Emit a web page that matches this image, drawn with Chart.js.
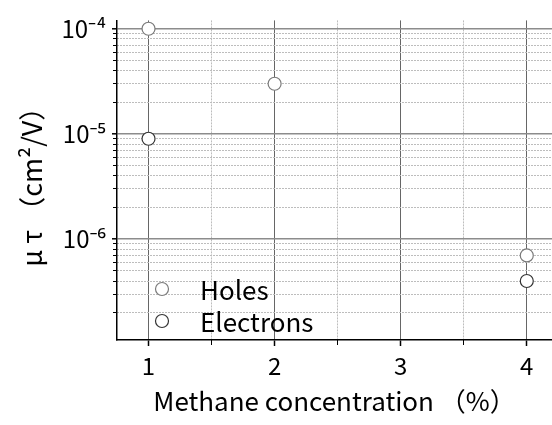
<!DOCTYPE html>
<html>
<head>
<meta charset="utf-8">
<script src="https://cdn.jsdelivr.net/npm/chart.js@4/dist/chart.umd.min.js"></script>
<style>
  html, body { margin: 0; padding: 0; background: #fff; }
  #wrap { width: 552px; height: 425px; }
</style>
</head>
<body>
<div id="wrap"><canvas id="myChart"></canvas></div>
<script>
const seriesNames = ['Holes', 'Electrons'];
const holesX = [1, 2, 4];
const holesY = [1e-4, 3e-5, 7e-7];
const electronsX = [1, 4];
const electronsY = [9e-6, 4e-7];

const xTicks = [1, 2, 3, 4];
const xMinorTicks = [1.5, 2.5, 3.5];
const yTicks = [1e-6, 1e-5, 1e-4];
const yTickLabels = ['10⁻⁶', '10⁻⁵', '10⁻⁴'];
const yDecades = [1e-7, 1e-6, 1e-5];
const yMinorSteps = [2, 3, 4, 5, 6, 7, 8, 9];

const xMin = 0.75, xMax = 4.2;
const yMin = 1.1e-7, yMax = 1.2e-4;
const family = '"Noto Sans CJK JP", "Noto Sans", sans-serif';

const yMinorTicks = [];
yDecades.forEach(d => {
  yMinorSteps.forEach(s => {
    const v = d * s;
    if (v >= yMin && v <= yMax) yMinorTicks.push(v);
  });
});

function toPoints(xs, ys) {
  return xs.map((x, i) => ({ x: x, y: ys[i] }));
}

// legend drawn inside the plot, bottom left
const insideLegend = {
  id: 'insideLegend',
  afterDatasetsDraw(chart) {
    const ctx = chart.ctx;
    const area = chart.chartArea;
    ctx.save();
    ctx.font = '26px ' + family;
    ctx.textBaseline = 'middle';
    ctx.textAlign = 'left';
    chart.data.datasets.forEach((ds, i) => {
      const y = area.bottom - 51 + i * 32;
      ctx.beginPath();
      ctx.arc(area.left + 45, y, ds.pointRadius, 0, Math.PI * 2);
      ctx.fillStyle = ds.pointBackgroundColor;
      ctx.fill();
      ctx.lineWidth = ds.pointBorderWidth;
      ctx.strokeStyle = ds.pointBorderColor;
      ctx.stroke();
      ctx.fillStyle = '#000';
      ctx.fillText(ds.label, area.left + 83, y + 1);
    });
    ctx.restore();
  }
};

new Chart(document.getElementById('myChart'), {
  type: 'scatter',
  data: {
    datasets: [{
      label: seriesNames[0],
      data: toPoints(holesX, holesY),
      xAxisID: 'x',
      yAxisID: 'y',
      pointRadius: 6.5,
      pointBackgroundColor: '#fff',
      pointBorderColor: '#7a7a7a',
      pointBorderWidth: 1.2
    }, {
      label: seriesNames[1],
      data: toPoints(electronsX, electronsY),
      xAxisID: 'x',
      yAxisID: 'y',
      pointRadius: 6.5,
      pointBackgroundColor: '#fff',
      pointBorderColor: '#333',
      pointBorderWidth: 1.2
    }]
  },
  options: {
    responsive: true,
    maintainAspectRatio: false,
    animation: false,
    layout: { autoPadding: false, padding: { top: 18, left: 0, right: 0, bottom: 0 } },
    plugins: { legend: { display: false }, tooltip: { enabled: false } },
    scales: {
      x: {
        type: 'linear', position: 'bottom', min: xMin, max: xMax, weight: 1,
        afterBuildTicks: s => { s.ticks = xTicks.map(v => ({ value: v })); },
        afterFit: s => { s.height = 85; s.paddingLeft = 0; s.paddingRight = 0; },
        ticks: { color: '#000', font: { family: family, size: 24 }, padding: 5,
                 maxRotation: 0, autoSkip: false, callback: v => String(v) },
        grid: { color: '#666', lineWidth: 1, tickLength: 6, tickColor: '#000', tickWidth: 1.5 },
        border: { color: '#000', width: 1.5 },
        title: { display: true, text: 'Methane concentration （%）', color: '#000',
                 font: { family: family, size: 26 }, padding: { top: 0, bottom: 8 } }
      },
      xMinor: {
        type: 'linear', position: 'bottom', min: xMin, max: xMax, weight: 0,
        afterBuildTicks: s => { s.ticks = xMinorTicks.map(v => ({ value: v })); },
        afterFit: s => { s.height = 0; s.paddingLeft = 0; s.paddingRight = 0; },
        ticks: { display: false },
        grid: { color: '#bdbdbd', lineWidth: 1, tickLength: 5, tickColor: '#000', tickWidth: 1 },
        border: { display: false, dash: [2, 1] }
      },
      y: {
        type: 'logarithmic', position: 'left', min: yMin, max: yMax, weight: 1,
        afterBuildTicks: s => { s.ticks = yTicks.map(v => ({ value: v })); },
        afterFit: s => { s.width = 117; },
        ticks: { color: '#000', font: { family: family, size: 24 }, padding: 6,
                 autoSkip: false, callback: v => yTickLabels[yTicks.indexOf(v)] },
        grid: { color: '#8c8c8c', lineWidth: 1.6, tickLength: 5, tickColor: '#000', tickWidth: 1.5 },
        border: { color: '#000', width: 1.5 },
        title: { display: true, text: 'μ τ （cm²/V）', color: '#000',
                 font: { family: family, size: 27 }, padding: { top: 16, bottom: 0 } }
      },
      yMinor: {
        type: 'logarithmic', position: 'left', min: yMin, max: yMax, weight: 0,
        afterBuildTicks: s => { s.ticks = yMinorTicks.map(v => ({ value: v })); },
        afterFit: s => { s.width = 0; },
        ticks: { display: false },
        grid: { color: '#bdbdbd', lineWidth: 1, tickLength: 4, tickColor: '#000', tickWidth: 1 },
        border: { display: false, dash: [2, 1] }
      }
    }
  },
  plugins: [insideLegend]
});
</script>
</body>
</html>
